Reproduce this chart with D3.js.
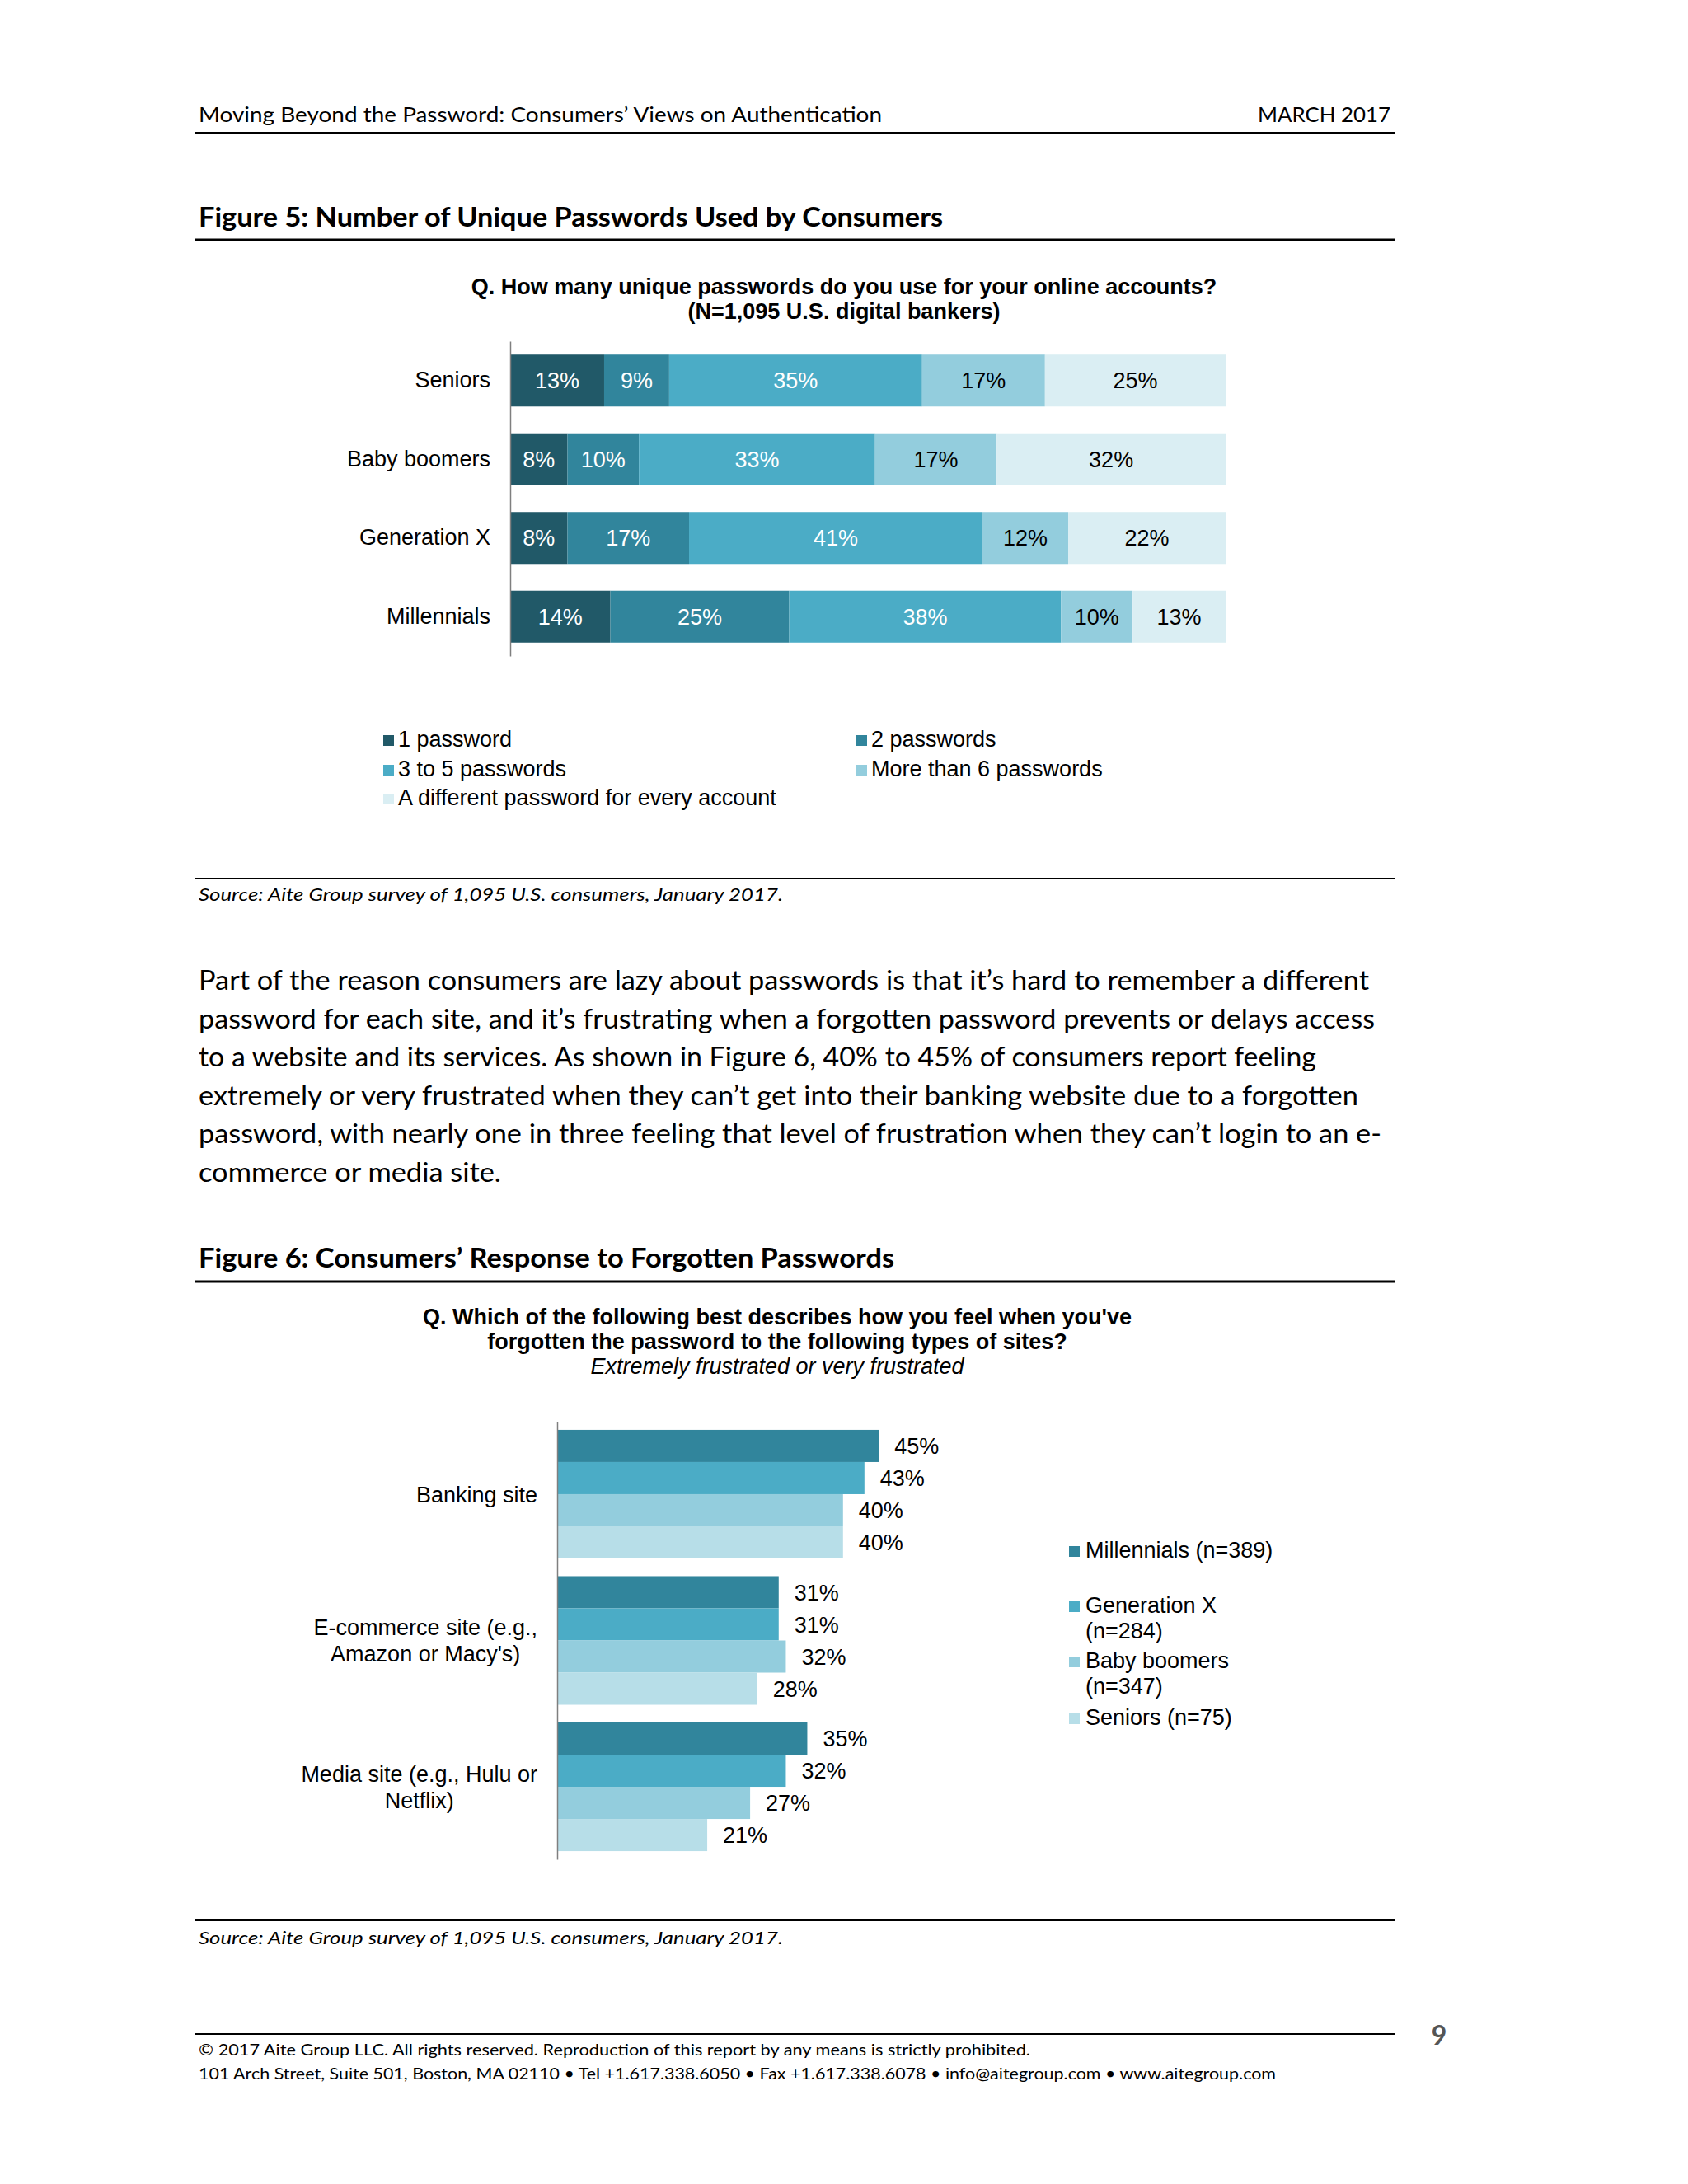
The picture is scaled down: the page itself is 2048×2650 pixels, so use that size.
<!DOCTYPE html>
<html>
<head>
<meta charset="utf-8">
<script src="https://cdn.jsdelivr.net/npm/d3@7"></script>
<style>
  html, body { margin: 0; padding: 0; background: #fff; }
  svg { display: block; }
</style>
</head>
<body>
<svg id="page" width="2048" height="2650"></svg>
<script>
// ---------------- DATA ----------------
// Figure 5
const ageGroups = ["Seniors", "Baby boomers", "Generation X", "Millennials"];
const passwordSeries = ["1 password", "2 passwords", "3 to 5 passwords", "More than 6 passwords", "A different password for every account"];
const onePassword      = [13, 8, 8, 14];
const twoPasswords     = [9, 10, 17, 25];
const threeToFive      = [35, 33, 41, 38];
const moreThanSix      = [17, 17, 12, 10];
const differentEvery   = [25, 32, 22, 13];

// Figure 6
const siteTypes = ["Banking site", "E-commerce site (e.g., Amazon or Macy's)", "Media site (e.g., Hulu or Netflix)"];
const siteLabelLines = [["Banking site"], ["E-commerce site (e.g.,", "Amazon or Macy's)"], ["Media site (e.g., Hulu or", "Netflix)"]];
const generationSeries = ["Millennials (n=389)", "Generation X (n=284)", "Baby boomers (n=347)", "Seniors (n=75)"];
const generationLegendLines = [["Millennials (n=389)"], ["Generation X", "(n=284)"], ["Baby boomers", "(n=347)"], ["Seniors (n=75)"]];
const millennials = [45, 31, 35];
const generationX = [43, 31, 32];
const babyBoomers = [40, 32, 27];
const seniors     = [40, 28, 21];

// Page text
const headerLeft = "Moving Beyond the Password: Consumers\u2019 Views on Authentication";
const headerRight = "MARCH 2017";
const fig5Title = "Figure 5: Number of Unique Passwords Used by Consumers";
const fig5Question = ["Q. How many unique passwords do you use for your online accounts?", "(N=1,095 U.S. digital bankers)"];
const sourceText = "Source: Aite Group survey of 1,095 U.S. consumers, January 2017.";
const paragraph = [
  "Part of the reason consumers are lazy about passwords is that it\u2019s hard to remember a different",
  "password for each site, and it\u2019s frustrating when a forgotten password prevents or delays access",
  "to a website and its services. As shown in Figure 6, 40% to 45% of consumers report feeling",
  "extremely or very frustrated when they can\u2019t get into their banking website due to a forgotten",
  "password, with nearly one in three feeling that level of frustration when they can\u2019t login to an e-",
  "commerce or media site."
];
const fig6Title = "Figure 6: Consumers\u2019 Response to Forgotten Passwords";
const fig6Question = ["Q. Which of the following best describes how you feel when you've", "forgotten the password to the following types of sites?"];
const fig6Subtitle = "Extremely frustrated or very frustrated";
const footerLines = [
  "\u00A9 2017 Aite Group LLC. All rights reserved. Reproduction of this report by any means is strictly prohibited.",
  "101 Arch Street, Suite 501, Boston, MA 02110 \u2022 Tel +1.617.338.6050 \u2022 Fax +1.617.338.6078 \u2022 info@aitegroup.com \u2022 www.aitegroup.com"
];
const pageNumber = "9";

// ---------------- STYLE ----------------
const pageFont = "Lato, 'Open Sans', sans-serif";
const chartFont = "'Liberation Sans', Arial, sans-serif";
const chartSize = 27;
const colors5 = ["#215968", "#31859C", "#4BACC6", "#93CDDD", "#DAEEF3"];
const labelColors5 = ["#fff", "#fff", "#fff", "#000", "#000"];
const colors6 = ["#31859C", "#4BACC6", "#93CDDD", "#B7DEE8"];

const svg = d3.select("#page");
const L = 241, RULE_L = 236, RULE_R = 1692;

function pageText(txt, x, y, opts) {
  const t = svg.append("text")
    .attr("x", x).attr("y", y)
    .attr("font-family", opts.family || pageFont)
    .attr("font-size", opts.size)
    .attr("font-weight", opts.weight || "normal")
    .attr("font-style", opts.style || "normal")
    .attr("fill", opts.fill || "#000")
    .attr("text-anchor", opts.anchor || "start")
    .text(txt);
  if (opts.width) t.attr("textLength", opts.width).attr("lengthAdjust", "spacingAndGlyphs");
  return t;
}
function rule(y, w) {
  svg.append("line").attr("x1", RULE_L).attr("x2", RULE_R).attr("y1", y).attr("y2", y)
    .attr("stroke", "#000").attr("stroke-width", w);
}

// ---------------- PAGE ----------------
pageText(headerLeft, L, 148, {size: 25, width: 829});
pageText(headerRight, 1687, 148, {size: 25, anchor: "end", width: 161});
rule(161, 2);

pageText(fig5Title, L, 275, {size: 32, weight: "bold", width: 903});
rule(291, 3);

fig5Question.forEach((q, i) => {
  svg.append("text").attr("x", 1024).attr("y", 357 + i * 30)
    .attr("font-family", chartFont).attr("font-size", 27).attr("font-weight", "bold")
    .attr("text-anchor", "middle").attr("fill", "#000").text(q);
});

rule(1066, 2);
pageText(sourceText, L, 1093, {size: 22, style: "italic", width: 709});

const paraWidths = [1420, 1427, 1356, 1407, 1435, 367];
paragraph.forEach((line, i) => {
  pageText(line, L, 1201 + i * 46.6, {size: 32, width: paraWidths[i]});
});

pageText(fig6Title, L, 1538, {size: 32, weight: "bold", width: 844});
rule(1555, 3);

fig6Question.forEach((q, i) => {
  svg.append("text").attr("x", 943).attr("y", 1607 + i * 30)
    .attr("font-family", chartFont).attr("font-size", 27).attr("font-weight", "bold")
    .attr("text-anchor", "middle").attr("fill", "#000").text(q);
});
svg.append("text").attr("x", 943).attr("y", 1667)
  .attr("font-family", chartFont).attr("font-size", 27).attr("font-style", "italic")
  .attr("text-anchor", "middle").attr("fill", "#000").text(fig6Subtitle);

rule(2330, 2);
pageText(sourceText, L, 2359, {size: 22, style: "italic", width: 709});

rule(2468, 2);
pageText(footerLines[0], L, 2494, {size: 20, width: 1009});
pageText(footerLines[1], L, 2523, {size: 20, width: 1307});
pageText(pageNumber, 1746, 2481, {size: 32, weight: "bold", fill: "#555", anchor: "middle"});

// ---------------- FIGURE 5: 100% stacked bars ----------------
(function () {
  const rows = ageGroups.map((g, i) => ({
    group: g,
    [passwordSeries[0]]: onePassword[i],
    [passwordSeries[1]]: twoPasswords[i],
    [passwordSeries[2]]: threeToFive[i],
    [passwordSeries[3]]: moreThanSix[i],
    [passwordSeries[4]]: differentEvery[i]
  }));
  const stack = d3.stack().keys(passwordSeries).offset(d3.stackOffsetExpand);
  const layers = stack(rows);

  const x = d3.scaleLinear().domain([0, 1]).range([619, 1487]);
  const y = d3.scaleBand().domain(ageGroups).range([414, 796]).paddingInner(0.34).paddingOuter(0.17);
  const color = d3.scaleOrdinal().domain(passwordSeries).range(colors5);
  const labelColor = d3.scaleOrdinal().domain(passwordSeries).range(labelColors5);

  const g = svg.append("g");
  const layer = g.selectAll("g.layer").data(layers).join("g").attr("class", "layer")
    .attr("fill", d => color(d.key));
  layer.selectAll("rect").data(d => d).join("rect")
    .attr("x", d => x(d[0]))
    .attr("y", d => y(d.data.group))
    .attr("width", d => x(d[1]) - x(d[0]))
    .attr("height", y.bandwidth());

  layers.forEach((ly, li) => {
    g.append("g").selectAll("text").data(ly).join("text")
      .attr("x", d => (x(d[0]) + x(d[1])) / 2)
      .attr("y", d => y(d.data.group) + y.bandwidth() / 2)
      .attr("dy", "0.36em")
      .attr("text-anchor", "middle")
      .attr("font-family", chartFont).attr("font-size", chartSize)
      .attr("fill", labelColor(ly.key))
      .text(d => d.data[ly.key] + "%");
  });

  const axis = g.append("g").attr("transform", "translate(619,0)")
    .call(d3.axisLeft(y).tickSize(0).tickSizeOuter(0).tickPadding(24));
  axis.select(".domain").attr("stroke", "#7f7f7f").attr("stroke-width", 1.5);
  axis.selectAll("text").attr("font-family", chartFont).attr("font-size", chartSize).attr("fill", "#000");

  // legend
  const legendPos = [[465, 906], [1039, 906], [465, 942], [1039, 942], [465, 977]];
  const lg = g.append("g").selectAll("g").data(passwordSeries).join("g")
    .attr("transform", (d, i) => `translate(${legendPos[i][0]},${legendPos[i][1]})`);
  lg.append("rect").attr("x", 0).attr("y", -14).attr("width", 13).attr("height", 13).attr("fill", d => color(d));
  lg.append("text").attr("x", 18).attr("y", 0)
    .attr("font-family", chartFont).attr("font-size", chartSize).attr("fill", "#000").text(d => d);
})();

// ---------------- FIGURE 6: grouped bars ----------------
(function () {
  const values = [millennials, generationX, babyBoomers, seniors];
  const rows = siteTypes.map((s, i) => ({
    site: s,
    vals: generationSeries.map((k, j) => ({key: k, value: values[j][i]}))
  }));

  const x = d3.scaleLinear().domain([0, 50]).range([676, 1109.5]);
  const y0 = d3.scaleBand().domain(siteTypes).range([1725, 2256]).paddingInner(0.121).paddingOuter(0.056);
  const y1 = d3.scaleBand().domain(generationSeries).range([0, y0.bandwidth()]).padding(0);
  const color = d3.scaleOrdinal().domain(generationSeries).range(colors6);

  const g = svg.append("g");
  const groups = g.selectAll("g.grp").data(rows).join("g").attr("class", "grp")
    .attr("transform", d => `translate(0,${y0(d.site)})`);
  groups.selectAll("rect").data(d => d.vals).join("rect")
    .attr("x", x(0))
    .attr("y", d => y1(d.key))
    .attr("width", d => x(d.value) - x(0))
    .attr("height", y1.bandwidth())
    .attr("fill", d => color(d.key));
  groups.selectAll("text").data(d => d.vals).join("text")
    .attr("x", d => x(d.value) + 19)
    .attr("y", d => y1(d.key) + y1.bandwidth() / 2)
    .attr("dy", "0.36em")
    .attr("font-family", chartFont).attr("font-size", chartSize).attr("fill", "#000")
    .text(d => d.value + "%");

  // axis line
  const axis = g.append("g").attr("transform", `translate(${x(0)},0)`)
    .call(d3.axisLeft(y0).tickSize(0).tickSizeOuter(0).tickFormat(""));
  axis.select(".domain").attr("stroke", "#7f7f7f").attr("stroke-width", 1.5);

  // category labels (multi-line, centered block, right-aligned)
  const labelRight = 652, lineH = 32;
  siteTypes.forEach((s, i) => {
    const lines = siteLabelLines[i];
    const cy = y0(s) + y0.bandwidth() / 2;
    const tg = g.append("g");
    const texts = lines.map((ln, k) => tg.append("text")
      .attr("y", cy + (k - (lines.length - 1) / 2) * lineH)
      .attr("dy", "0.36em")
      .attr("text-anchor", "middle")
      .attr("font-family", chartFont).attr("font-size", chartSize).attr("fill", "#000")
      .text(ln));
    const maxW = d3.max(texts, t => t.node().getComputedTextLength());
    texts.forEach(t => t.attr("x", labelRight - maxW / 2));
  });

  // legend
  const legendY = [1890, 1957, 2024, 2093];
  const lg = g.append("g").selectAll("g").data(generationSeries).join("g")
    .attr("transform", (d, i) => `translate(1297,${legendY[i]})`);
  lg.append("rect").attr("x", 0).attr("y", -14).attr("width", 13).attr("height", 13).attr("fill", d => color(d));
  lg.each(function (d, i) {
    const sel = d3.select(this);
    generationLegendLines[i].forEach((ln, k) => {
      sel.append("text").attr("x", 20).attr("y", k * 31)
        .attr("font-family", chartFont).attr("font-size", chartSize).attr("fill", "#000").text(ln);
    });
  });
})();
</script>
</body>
</html>
